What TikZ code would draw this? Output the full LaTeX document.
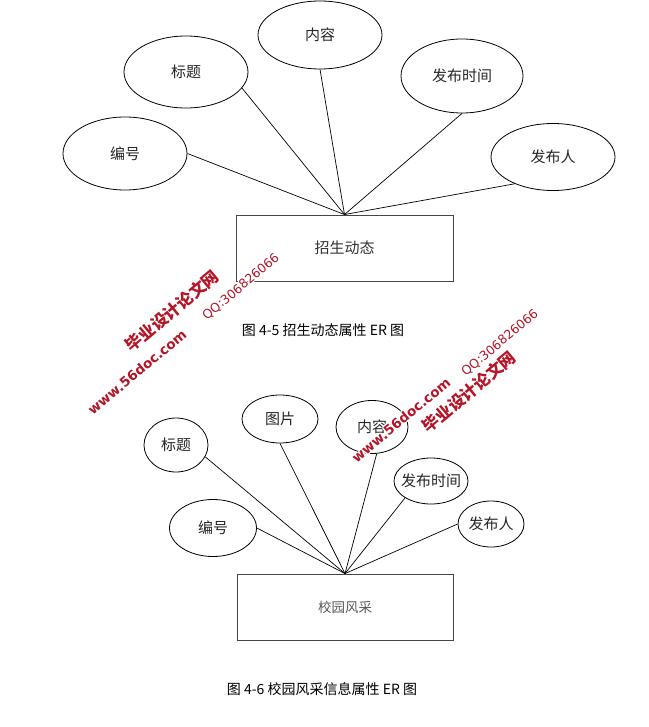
\documentclass[tikz,border=0pt]{standalone}
\usepackage{fontspec}
\usepackage{tikz}
\usetikzlibrary{shapes.geometric}
\newfontfamily\cjk{Noto Sans CJK SC}
\newfontfamily\wmlatin{DejaVu Sans}
\definecolor{wmred}{RGB}{180,22,40}
\definecolor{boxgray}{RGB}{70,70,70}

\newcommand\lbl{\cjk\fontsize{15pt}{18pt}\selectfont}
\newcommand\caplbl{\cjk\fontsize{14pt}{17pt}\selectfont}

\tikzset{
  attr/.style={ellipse, draw, line width=0.8pt, inner sep=0pt},
  entity/.style={rectangle, draw=boxgray, line width=0.9pt, inner sep=0pt,
    minimum width=217pt, minimum height=66pt},
  link/.style={line width=0.7pt},
  every label/.style={font=\lbl, text=black!85},
  wmark/.style={text=wmred, rotate=40, inner sep=0pt}
}

% watermark text with a white halo
\newcommand\wmtext[4]{%
  \foreach \ang in {0,45,...,315}
    \node[wmark, text=white, font=#3, shift={(\ang:1.3pt)}] at #2 {#4};
  \node[wmark, font=#3] (#1) at #2 {#4};
}

\begin{document}
\begin{tikzpicture}[x=1pt, y=-1pt]
\useasboundingbox[fill=white] (0,0) rectangle (648,727);

% ER diagram 4-5
\node[entity, font=\lbl, text=black!80] (zsdt) at (344.5,248) {招生动态};
\node[attr, minimum width=124pt, minimum height=73pt, label={center:编号}] (zs-bh) at (125,153.5) {};
\node[attr, minimum width=124pt, minimum height=72pt, label={center:标题}] (zs-bt) at (186,72) {};
\node[attr, minimum width=124pt, minimum height=68pt, label={center:内容}] (zs-nr) at (320,35) {};
\node[attr, minimum width=122pt, minimum height=74pt, label={center:发布时间}] (zs-sj) at (462,76) {};
\node[attr, minimum width=124pt, minimum height=67pt, label={center:发布人}] (zs-fbr) at (553,157) {};

\draw[link] (zs-bh.east) -- (zsdt.north);
\draw[link] (zs-bt.-16) -- (zsdt.north);
\draw[link] (zs-nr.south) -- (zsdt.north);
\draw[link] (zs-sj.south) -- (zsdt.north);
\draw[link] (zs-fbr.-145) -- (zsdt.north);

\node[font=\caplbl] (cap45) at (323,330) {图 4-5 招生动态属性 ER 图};

% ER diagram 4-6
\node[entity, minimum width=216pt, font=\cjk\fontsize{13.5pt}{16pt}\selectfont, text=black!65] (xyfc) at (345,607) {校园风采};
\node[attr, minimum width=64pt, minimum height=54pt, label={center:标题}] (xy-bt) at (176,445) {};
\node[attr, minimum width=76pt, minimum height=48pt, label={center:图片}] (xy-tp) at (280,419) {};
\node[attr, minimum width=72pt, minimum height=53pt, label={center:内容}] (xy-nr) at (372,427) {};
\node[attr, minimum width=74pt, minimum height=46pt, label={center:发布时间}] (xy-sj) at (431,481) {};
\node[attr, minimum width=66pt, minimum height=46pt, label={center:发布人}] (xy-fbr) at (491,524) {};
\node[attr, minimum width=87pt, minimum height=57pt, label={center:编号}] (xy-bh) at (213,528) {};

\draw[link] (xy-bt.-22) -- (xyfc.north);
\draw[link] (xy-tp.south) -- (xyfc.north);
\draw[link] (xy-nr.-80) -- (xyfc.north);
\draw[link] (xy-sj.-147) -- (xyfc.north);
\draw[link] (xy-fbr.west) -- (xyfc.north);
\draw[link] (xy-bh.east) -- (xyfc.north);

\node[font=\caplbl] (cap46) at (322,689) {图 4-6 校园风采信息属性 ER 图};

% watermarks
\wmtext{wm-a1}{(172,311)}{\cjk\bfseries\fontsize{16.5pt}{18pt}\selectfont}{毕业设计论文网}
\wmtext{wm-a2}{(137,372)}{\wmlatin\bfseries\fontsize{13.5pt}{16pt}\selectfont}{www.56doc.com}
\wmtext{wm-a3}{(241,287)}{\wmlatin\fontsize{12.5pt}{15pt}\selectfont}{QQ:306826066}
\wmtext{wm-b1}{(469,392)}{\cjk\bfseries\fontsize{16.5pt}{18pt}\selectfont}{毕业设计论文网}
\wmtext{wm-b2}{(401,420)}{\wmlatin\bfseries\fontsize{13.5pt}{16pt}\selectfont}{www.56doc.com}
\wmtext{wm-b3}{(500,343)}{\wmlatin\fontsize{12.5pt}{15pt}\selectfont}{QQ:306826066}
\end{tikzpicture}
\end{document}
